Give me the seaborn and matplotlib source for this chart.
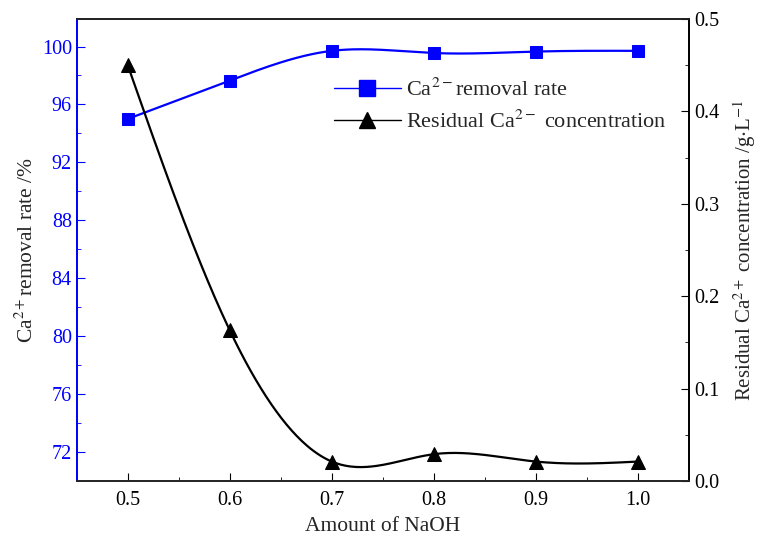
import numpy as np
import pandas as pd
import matplotlib
matplotlib.use("Agg")
import matplotlib.pyplot as plt
from matplotlib.lines import Line2D
from matplotlib.ticker import MultipleLocator
import seaborn as sns

# ---- data ----
naoh = [0.5, 0.6, 0.7, 0.8, 0.9, 1.0]
removal_rate = [95.0, 97.65, 99.7, 99.55, 99.65, 99.7]
residual_conc = [0.450, 0.163, 0.021, 0.029, 0.021, 0.021]
x_ticks = [0.5, 0.6, 0.7, 0.8, 0.9, 1.0]
left_ticks = [72, 76, 80, 84, 88, 92, 96, 100]
right_ticks = [0.0, 0.1, 0.2, 0.3, 0.4, 0.5]


def natural_spline(x, y, xs):
    x = np.asarray(x, float); y = np.asarray(y, float)
    n = len(x)
    h = np.diff(x)
    A = np.zeros((n, n)); b = np.zeros(n)
    A[0, 0] = 1; A[-1, -1] = 1
    for i in range(1, n - 1):
        A[i, i - 1] = h[i - 1]
        A[i, i] = 2 * (h[i - 1] + h[i])
        A[i, i + 1] = h[i]
        b[i] = 6 * ((y[i + 1] - y[i]) / h[i] - (y[i] - y[i - 1]) / h[i - 1])
    M = np.linalg.solve(A, b)
    out = np.empty_like(xs)
    for k, xv in enumerate(xs):
        i = min(max(np.searchsorted(x, xv) - 1, 0), n - 2)
        t1 = x[i + 1] - xv; t0 = xv - x[i]
        out[k] = (M[i] * t1 ** 3 + M[i + 1] * t0 ** 3) / (6 * h[i]) \
            + (y[i] / h[i] - M[i] * h[i] / 6) * t1 \
            + (y[i + 1] / h[i] - M[i + 1] * h[i] / 6) * t0
    return out


sns.set_style("ticks")
plt.rcParams['font.family'] = ['Liberation Serif', 'DejaVu Serif']
plt.rcParams['mathtext.fontset'] = 'stix'
plt.rcParams['xtick.direction'] = 'in'
plt.rcParams['ytick.direction'] = 'in'

fig = plt.figure(figsize=(7.61, 5.38), dpi=100)
ax = fig.add_axes([0.1008, 0.106, 0.8046, 0.8587])
ax2 = ax.twinx()

xs = np.linspace(min(naoh), max(naoh), 300)
df_r = pd.DataFrame({"x": xs, "y": natural_spline(naoh, removal_rate, xs)})
df_c = pd.DataFrame({"x": xs, "y": natural_spline(naoh, residual_conc, xs)})

blue = "#0000ff"
sns.lineplot(data=df_r, x="x", y="y", ax=ax, color=blue, lw=1.6, legend=False)
sns.lineplot(x=naoh, y=removal_rate, ax=ax, color=blue, lw=0, marker="s",
             markersize=8.5, markeredgecolor=blue, legend=False)
sns.lineplot(data=df_c, x="x", y="y", ax=ax2, color="black", lw=1.6, legend=False)
sns.lineplot(x=naoh, y=residual_conc, ax=ax2, color="black", lw=0, marker="^",
             markersize=9.5, markeredgecolor="black", legend=False)

ax.set_xlim(0.45, 1.05)
ax.set_ylim(70, 101.9)
ax2.set_ylim(0, 0.5)
ax.set_xticks(x_ticks)
ax.set_xticklabels([f"{v:.1f}" for v in x_ticks])
ax.xaxis.set_minor_locator(MultipleLocator(0.05))
ax.set_yticks(left_ticks)
ax.yaxis.set_minor_locator(MultipleLocator(2))
ax2.set_yticks(right_ticks)
ax2.set_yticklabels([f"{v:.1f}" for v in right_ticks])
ax2.yaxis.set_minor_locator(MultipleLocator(0.05))

fs_tick = 14.5
fs_lab = 15.5
ax.tick_params(axis='x', which='both', top=False, labelsize=fs_tick, colors='black', pad=7)
ax.tick_params(axis='x', which='major', length=6)
ax.tick_params(axis='x', which='minor', length=3)
ax.tick_params(axis='y', which='both', colors=blue, labelsize=fs_tick, right=False)
ax.tick_params(axis='y', which='major', length=6)
ax.tick_params(axis='y', which='minor', length=3)
ax2.tick_params(axis='y', which='both', colors='black', labelsize=fs_tick)
ax2.tick_params(axis='y', which='major', length=6)
ax2.tick_params(axis='y', which='minor', length=3)

for a in (ax, ax2):
    for s in a.spines.values():
        s.set_linewidth(1.3)
        s.set_visible(True)
ax.spines['left'].set_color(blue)
ax2.spines['left'].set_color(blue)
ax.spines['top'].set_color('#222222')
ax2.spines['top'].set_color('#222222')
ax2.spines['right'].set_color('black')

ax.set_xlabel("Amount of NaOH", fontsize=fs_lab, labelpad=5)
ax.set_ylabel(r"Ca$^{2+}$removal rate /%", fontsize=fs_lab, labelpad=3)
ax2.set_ylabel(r"Residual Ca$^{2+}$ concentration /g$\cdot$L$^{-1}$", fontsize=15, labelpad=9)

handles = [
    Line2D([], [], color=blue, lw=1.0, marker="s", markersize=12, markeredgecolor=blue),
    Line2D([], [], color="black", lw=1.0, marker="^", markersize=12, markeredgecolor="black"),
]
labels = [r"Ca$^{2-}$removal rate", r"Residual Ca$^{2-}$ concentration"]
ax2.legend(handles, labels, loc="upper left", bbox_to_anchor=(0.42, 0.87),
           frameon=False, fontsize=16, handlelength=3.0, handletextpad=0.25,
           labelspacing=0.4, borderaxespad=0, borderpad=0)

fig.savefig("out.png", dpi=100)
